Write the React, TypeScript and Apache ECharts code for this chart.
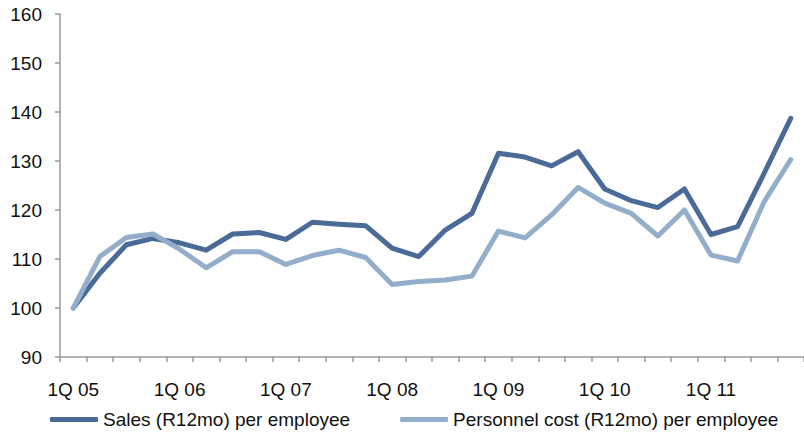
import React, { useEffect, useRef } from "react";
import * as echarts from "echarts";

// Quarterly categories, 1Q 05 through 4Q 11
const years = ["05", "06", "07", "08", "09", "10", "11"];
const quarters = years.flatMap((y) => ["1Q", "2Q", "3Q", "4Q"].map((q) => `${q} ${y}`));

// Index, 1Q 05 = 100
const salesPerEmployee = [
  100, 107.1, 112.9, 114.2, 113.3, 111.8, 115.1, 115.4, 114.0, 117.5, 117.1, 116.8, 112.2, 110.5,
  115.9, 119.3, 131.6, 130.8, 129.0, 131.9, 124.3, 121.9, 120.5, 124.3, 115.0, 116.6, 127.5, 138.7,
];
const personnelCostPerEmployee = [
  100, 110.5, 114.4, 115.1, 112.0, 108.2, 111.5, 111.5, 108.9, 110.7, 111.8, 110.3, 104.8, 105.4,
  105.7, 106.5, 115.7, 114.3, 119.0, 124.6, 121.4, 119.3, 114.7, 120.0, 110.8, 109.6, 121.7, 130.3,
];

const seriesNames = ["Sales (R12mo) per employee", "Personnel cost (R12mo) per employee"];
const DARK = "#4a6a97";
const LIGHT = "#93aeca";
const AXIS = "#9a9a9a";
const FONT = "'Liberation Sans', Arial, sans-serif";

export default function App() {
  const ref = useRef<HTMLDivElement>(null);

  useEffect(() => {
    document.body.style.margin = "0";
    if (!ref.current) return;
    const chart = echarts.init(ref.current, undefined, { renderer: "svg" });
    chart.setOption({
      animation: false,
      backgroundColor: "#ffffff",
      textStyle: { fontFamily: FONT },
      grid: { left: 60, top: 14, width: 748, height: 343 },
      legend: {
        left: 50,
        top: 410,
        padding: 0,
        itemGap: 50,
        itemWidth: 48,
        itemHeight: 5,
        icon: "roundRect",
        textStyle: { fontFamily: FONT, fontSize: 19, color: "#111" },
        data: seriesNames,
      },
      xAxis: {
        type: "category",
        data: quarters,
        boundaryGap: true,
        axisLine: { lineStyle: { color: AXIS, width: 1.5 } },
        axisTick: { show: true, interval: 0, length: 5, lineStyle: { color: AXIS, width: 1.5 } },
        axisLabel: { interval: 3, margin: 23, fontSize: 19, color: "#111", fontFamily: FONT },
        splitLine: { show: false },
      },
      yAxis: {
        type: "value",
        min: 90,
        max: 160,
        interval: 10,
        axisLine: { show: true, lineStyle: { color: AXIS, width: 1.5 } },
        axisTick: { show: true, length: 5, lineStyle: { color: AXIS, width: 1.5 } },
        axisLabel: { margin: 18, fontSize: 19, color: "#111", fontFamily: FONT },
        splitLine: { show: false },
      },
      series: [
        {
          name: seriesNames[0],
          type: "line",
          data: salesPerEmployee,
          symbol: "none",
          itemStyle: { color: DARK },
          lineStyle: { color: DARK, width: 5, join: "round", cap: "round" },
        },
        {
          name: seriesNames[1],
          type: "line",
          data: personnelCostPerEmployee,
          symbol: "none",
          itemStyle: { color: LIGHT },
          lineStyle: { color: LIGHT, width: 5, join: "round", cap: "round" },
        },
      ],
    });
    return () => chart.dispose();
  }, []);

  return <div ref={ref} style={{ width: 804, height: 432 }} />;
}
